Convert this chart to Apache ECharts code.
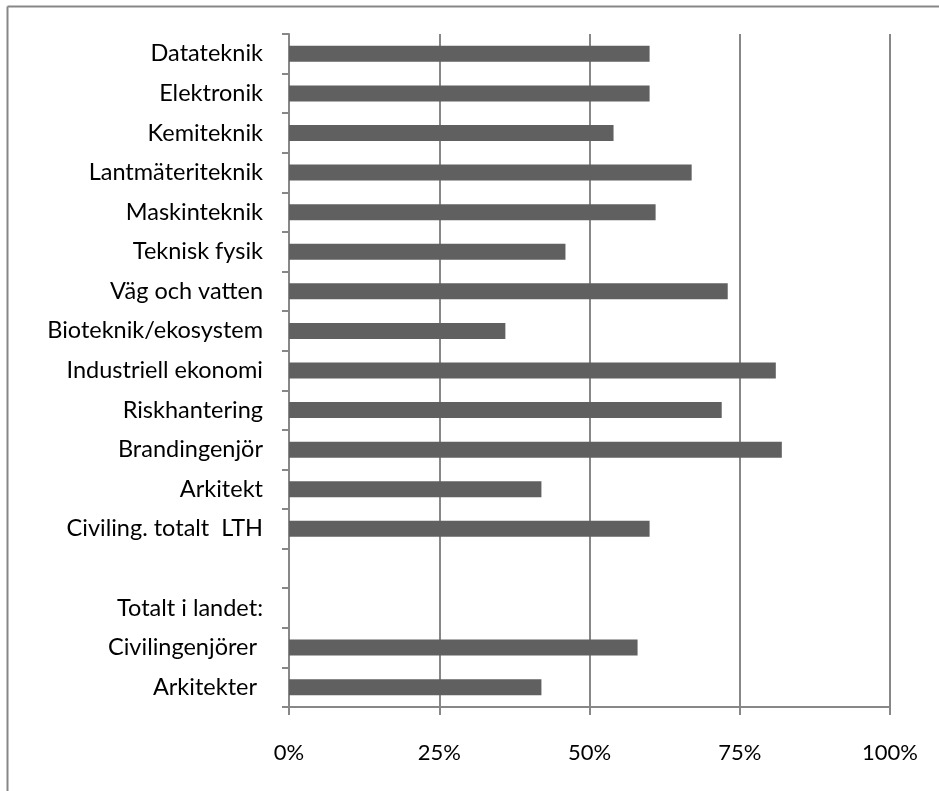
<!DOCTYPE html>
<html>
<head>
<meta charset="utf-8">
<script src="https://cdn.jsdelivr.net/npm/echarts@6/dist/echarts.min.js"></script>
<style>
  html, body { margin: 0; padding: 0; background: #fff; }
  #chart { width: 939px; height: 791px; }
</style>
</head>
<body>
<div id="chart"></div>
<script>
// Programmes, top to bottom (empty strings keep the spacer row)
const categories = [
  'Datateknik', 'Elektronik', 'Kemiteknik', 'Lantmäteriteknik', 'Maskinteknik',
  'Teknisk fysik', 'Väg och vatten', 'Bioteknik/ekosystem', 'Industriell ekonomi',
  'Riskhantering', 'Brandingenjör', 'Arkitekt', 'Civiling. totalt  LTH',
  '', 'Totalt i landet:', 'Civilingenjörer ', 'Arkitekter '
];
// Share in percent; null where a row has no bar
const values = [60, 60, 54, 67, 61, 46, 73, 36, 81, 72, 82, 42, 60, null, null, 58, 42];
const xTicks = [0, 25, 50, 75, 100];

const gray = '#878787';
const font = 'Lato, "Open Sans", sans-serif';

const chart = echarts.init(document.getElementById('chart'));
chart.setOption({
  animation: false,
  backgroundColor: '#ffffff',
  grid: { left: 289, right: 49, top: 34, bottom: 84, containLabel: false },
  graphic: [
    { type: 'line', shape: { x1: 7.5, y1: 6.5, x2: 939, y2: 6.5 }, style: { stroke: gray, lineWidth: 2 } },
    { type: 'line', shape: { x1: 7.5, y1: 6.5, x2: 7.5, y2: 791 }, style: { stroke: gray, lineWidth: 2 } }
  ],
  xAxis: {
    type: 'value',
    min: xTicks[0],
    max: xTicks[xTicks.length - 1],
    interval: 25,
    axisLine: { show: true, lineStyle: { color: gray, width: 2 } },
    axisTick: { show: true, length: 8, lineStyle: { color: gray, width: 2 } },
    splitLine: { show: true, lineStyle: { color: gray, width: 2 } },
    axisLabel: {
      formatter: '{value}%',
      color: '#000',
      fontFamily: font,
      fontSize: 22,
      margin: 35
    }
  },
  yAxis: {
    type: 'category',
    inverse: true,
    data: categories,
    axisLine: { show: true, lineStyle: { color: gray, width: 2 } },
    axisTick: { show: true, length: 7, lineStyle: { color: gray, width: 2 } },
    axisLabel: {
      color: '#000',
      fontFamily: font,
      fontSize: 23.5,
      margin: 26,
      interval: 0
    }
  },
  series: [{
    type: 'bar',
    data: values,
    barWidth: 16,
    itemStyle: { color: '#606060' },
    z: 3
  }]
});
</script>
</body>
</html>
